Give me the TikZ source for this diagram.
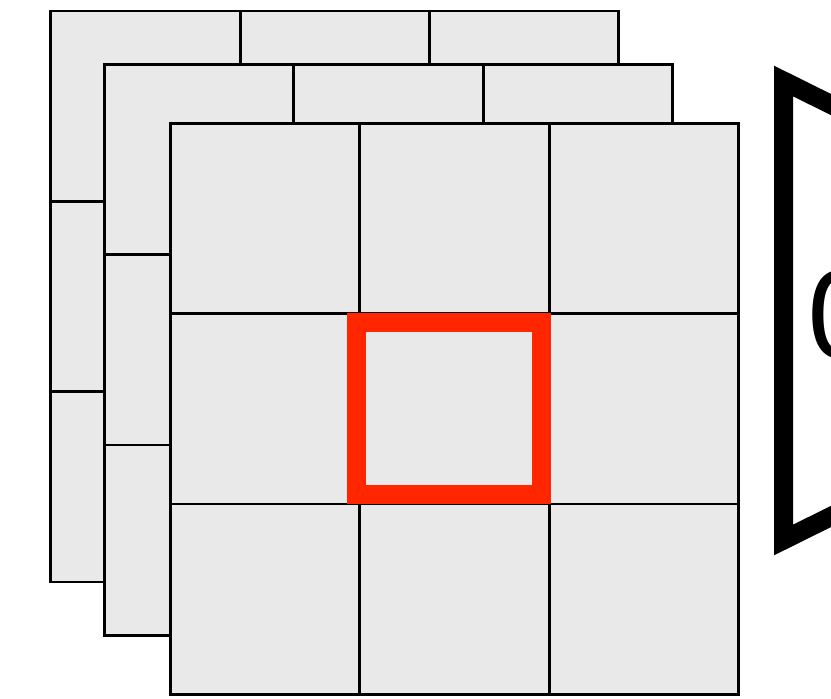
\documentclass[tikz,border=0pt]{standalone}
\usepackage{fontspec}
\newfontfamily\heros{TeX Gyre Heros}
\definecolor{cellgray}{RGB}{233,233,233}
\definecolor{kernred}{RGB}{255,38,0}
\begin{document}
\begin{tikzpicture}[x=.2mm,y=-.2mm,
    layer/.style={draw=black,fill=cellgray,line width=.55mm},
    gridline/.style={draw=black,line width=.55mm},
    kernel/.style={draw=kernred,line width=3.8mm,miter limit=10},
    bracket/.style={draw=black,line width=3.8mm,miter limit=10},
    entry/.style={anchor=base west,inner sep=0pt,font=\heros\fontsize{70}{84}\selectfont}]
\clip (0,0) rectangle (831,698);
% back channel
\filldraw[layer] (50.7,11) rectangle (618.7,582);
\draw[gridline] (240.2,11) -- (240.2,582);
\draw[gridline] (429.7,11) -- (429.7,582);
\draw[gridline] (50.7,201.3) -- (618.7,201.3);
\draw[gridline] (50.7,391.7) -- (618.7,391.7);
% middle channel
\filldraw[layer] (104.3,64.3) rectangle (672.3,635.3);
\draw[gridline] (293.8,64.3) -- (293.8,635.3);
\draw[gridline] (483.3,64.3) -- (483.3,635.3);
\draw[gridline] (104.3,254.6) -- (672.3,254.6);
\draw[gridline] (104.3,445) -- (672.3,445);
% front channel
\filldraw[layer] (170.3,123.3) rectangle (738.3,694.3);
\draw[gridline] (359.8,123.3) -- (359.8,694.3);
\draw[gridline] (549.3,123.3) -- (549.3,694.3);
\draw[gridline] (170.3,313.6) -- (738.3,313.6);
\draw[gridline] (170.3,504) -- (738.3,504);
% centre cell
\draw[kernel] (356.5,322.5) rectangle (541.5,494);
% matrix bracket
\draw[bracket] (850,114) -- (783.5,81) -- (783.5,540) -- (850,507);
\node[entry] (zero) at (807,357) {0};
\end{tikzpicture}
\end{document}
